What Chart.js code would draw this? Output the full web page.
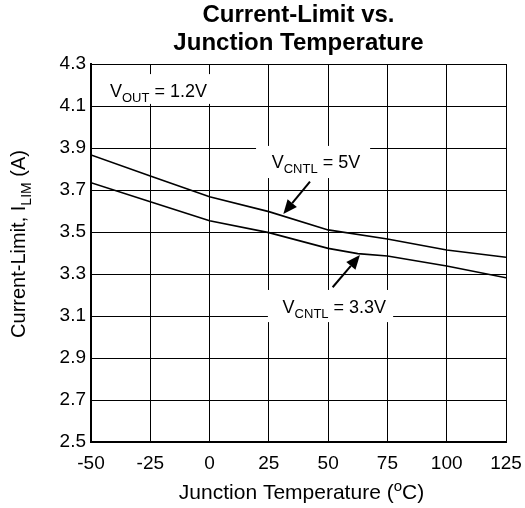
<!DOCTYPE html>
<html>
<head>
<meta charset="utf-8">
<script src="https://cdn.jsdelivr.net/npm/chart.js@4.4.1/dist/chart.umd.min.js"></script>
<style>
  html, body { margin: 0; padding: 0; background: #ffffff; }
  #wrap { width: 525px; height: 508px; }
</style>
</head>
<body>
<div id="wrap"><canvas id="c" width="525" height="508"></canvas></div>
<script>
// ---- data ----
const temperatures = [-50, -25, 0, 25, 50, 75, 100, 125];
const ilim5V = [3.867, 3.767, 3.668, 3.597, 3.510, 3.467, 3.414, 3.380];
const temperatures33 = [-50, -25, 0, 25, 50, 62.5, 75, 100, 125];
const ilim33V = [3.735, 3.644, 3.554, 3.497, 3.422, 3.397, 3.386, 3.338, 3.282];
const xTicks = [-50, -25, 0, 25, 50, 75, 100, 125];
const yTicks = ['2.5', '2.7', '2.9', '3.1', '3.3', '3.5', '3.7', '3.9', '4.1', '4.3'];
const titleLines = ['Current-Limit vs.', 'Junction Temperature'];

const FONT = '"Liberation Sans", Arial, Helvetica, sans-serif';

function toPts(xs, ys) { return xs.map((x, i) => ({ x: x, y: ys[i] })); }

// rich text helper: segments [{t, mode:'n'|'sub'|'sup'}]
function richWidth(ctx, segs, size) {
  let w = 0;
  segs.forEach(s => {
    const fs = s.mode === 'n' ? size : Math.round(size * 0.7);
    ctx.font = fs + 'px ' + FONT;
    w += ctx.measureText(s.t).width;
  });
  return w;
}
function drawRich(ctx, segs, x, y, size) {
  let cx = x;
  segs.forEach(s => {
    const fs = s.mode === 'n' ? size : Math.round(size * 0.7);
    ctx.font = fs + 'px ' + FONT;
    let dy = 0;
    if (s.mode === 'sub') dy = size * 0.28;
    if (s.mode === 'sup') dy = -size * 0.38;
    ctx.fillText(s.t, cx, y + dy);
    cx += ctx.measureText(s.t).width;
  });
}

// annotations in data coordinates
const notes = [
  { box: [-46.2, 6.1, 4.252, 4.110], text: [{t:'V',mode:'n'},{t:'OUT',mode:'sub'},{t:' = 1.2V',mode:'n'}], at: [-42.0, 4.144] },
  { box: [19.6, 67.7, 3.910, 3.757], text: [{t:'V',mode:'n'},{t:'CNTL',mode:'sub'},{t:' = 5V',mode:'n'}], at: [26.2, 3.803],
    arrow: [42.35, 3.740, 31.1, 3.586] },
  { box: [24.6, 77.4, 3.224, 3.071], text: [{t:'V',mode:'n'},{t:'CNTL',mode:'sub'},{t:' = 3.3V',mode:'n'}], at: [30.8, 3.116],
    arrow: [51.9, 3.237, 63.4, 3.390] }
];

const annotPlugin = {
  id: 'annot',
  beforeDatasetsDraw(chart) {
    const ctx = chart.ctx, xs = chart.scales.x, ys = chart.scales.y;
    ctx.save();
    ctx.fillStyle = '#ffffff';
    notes.forEach(n => {
      const x0 = xs.getPixelForValue(n.box[0]), x1 = xs.getPixelForValue(n.box[1]);
      const y0 = ys.getPixelForValue(n.box[2]), y1 = ys.getPixelForValue(n.box[3]);
      ctx.fillRect(x0, y0, x1 - x0, y1 - y0);
    });
    ctx.restore();
  },
  afterDatasetsDraw(chart) {
    const ctx = chart.ctx, xs = chart.scales.x, ys = chart.scales.y;
    ctx.save();
    ctx.fillStyle = '#000000';
    ctx.strokeStyle = '#000000';
    ctx.textBaseline = 'alphabetic';
    ctx.textAlign = 'left';
    notes.forEach(n => {
      drawRich(ctx, n.text, xs.getPixelForValue(n.at[0]), ys.getPixelForValue(n.at[1]), 18);
      if (n.arrow) {
        const ax = xs.getPixelForValue(n.arrow[0]), ay = ys.getPixelForValue(n.arrow[1]);
        const bx = xs.getPixelForValue(n.arrow[2]), by = ys.getPixelForValue(n.arrow[3]);
        const ang = Math.atan2(by - ay, bx - ax);
        const hl = 14, hw = 6;
        const hx = bx - hl * Math.cos(ang), hy = by - hl * Math.sin(ang);
        ctx.lineWidth = 2;
        ctx.beginPath(); ctx.moveTo(ax, ay); ctx.lineTo(hx, hy); ctx.stroke();
        ctx.beginPath();
        ctx.moveTo(bx, by);
        ctx.lineTo(hx + hw * Math.sin(ang), hy - hw * Math.cos(ang));
        ctx.lineTo(hx - hw * Math.sin(ang), hy + hw * Math.cos(ang));
        ctx.closePath(); ctx.fill();
      }
    });
    // axis titles with sub/superscripts
    const area = chart.chartArea;
    const xt = [{t:'Junction Temperature (',mode:'n'},{t:'o',mode:'sup'},{t:'C)',mode:'n'}];
    const xw = richWidth(ctx, xt, 21);
    drawRich(ctx, xt, (area.left + area.right) / 2 + 3 - xw / 2, 499, 21);
    const yt = [{t:'Current-Limit, I',mode:'n'},{t:'LIM',mode:'sub'},{t:' (A)',mode:'n'}];
    const yw = richWidth(ctx, yt, 20);
    ctx.translate(25, 244);
    ctx.rotate(-Math.PI / 2);
    drawRich(ctx, yt, -yw / 2, 0, 20);
    ctx.restore();
  }
};

new Chart(document.getElementById('c'), {
  type: 'line',
  data: {
    datasets: [
      { label: 'VCNTL = 5V', data: toPts(temperatures, ilim5V), borderColor: '#000', borderWidth: 1.6, pointRadius: 0, tension: 0, fill: false },
      { label: 'VCNTL = 3.3V', data: toPts(temperatures33, ilim33V), borderColor: '#000', borderWidth: 1.6, pointRadius: 0, tension: 0, fill: false }
    ]
  },
  options: {
    responsive: false,
    animation: false,
    layout: { padding: { top: 0, right: 19, left: 0, bottom: 0 } },
    plugins: {
      legend: { display: false },
      tooltip: { enabled: false },
      title: {
        display: true,
        text: titleLines,
        fullSize: false,
        color: '#000',
        font: { family: FONT, size: 24, weight: 'bold', lineHeight: 1.167 },
        padding: { top: 1, bottom: 7 }
      }
    },
    scales: {
      x: {
        type: 'linear',
        min: -50, max: 125,
        afterBuildTicks(s) { s.ticks = xTicks.map(v => ({ value: v })); },
        afterFit(s) { s.height = 66; s.paddingLeft = 0; s.paddingRight = 0; },
        ticks: { color: '#000', font: { family: FONT, size: 19 }, padding: 10, maxRotation: 0,
          callback: v => String(v) },
        grid: { color: '#000', lineWidth: 1, drawTicks: false },
        border: { color: '#000', width: 2 }
      },
      y: {
        type: 'linear',
        min: 2.5, max: 4.3,
        afterBuildTicks(s) { s.ticks = yTicks.map(v => ({ value: parseFloat(v) })); },
        afterFit(s) { s.width = 91; s.paddingTop = 0; s.paddingBottom = 0; },
        ticks: { color: '#000', font: { family: FONT, size: 19 }, padding: 5,
          callback: v => Number(v).toFixed(1) },
        grid: { color: '#000', lineWidth: 1, drawTicks: false },
        border: { color: '#000', width: 2 }
      }
    }
  },
  plugins: [annotPlugin]
});
</script>
</body>
</html>
